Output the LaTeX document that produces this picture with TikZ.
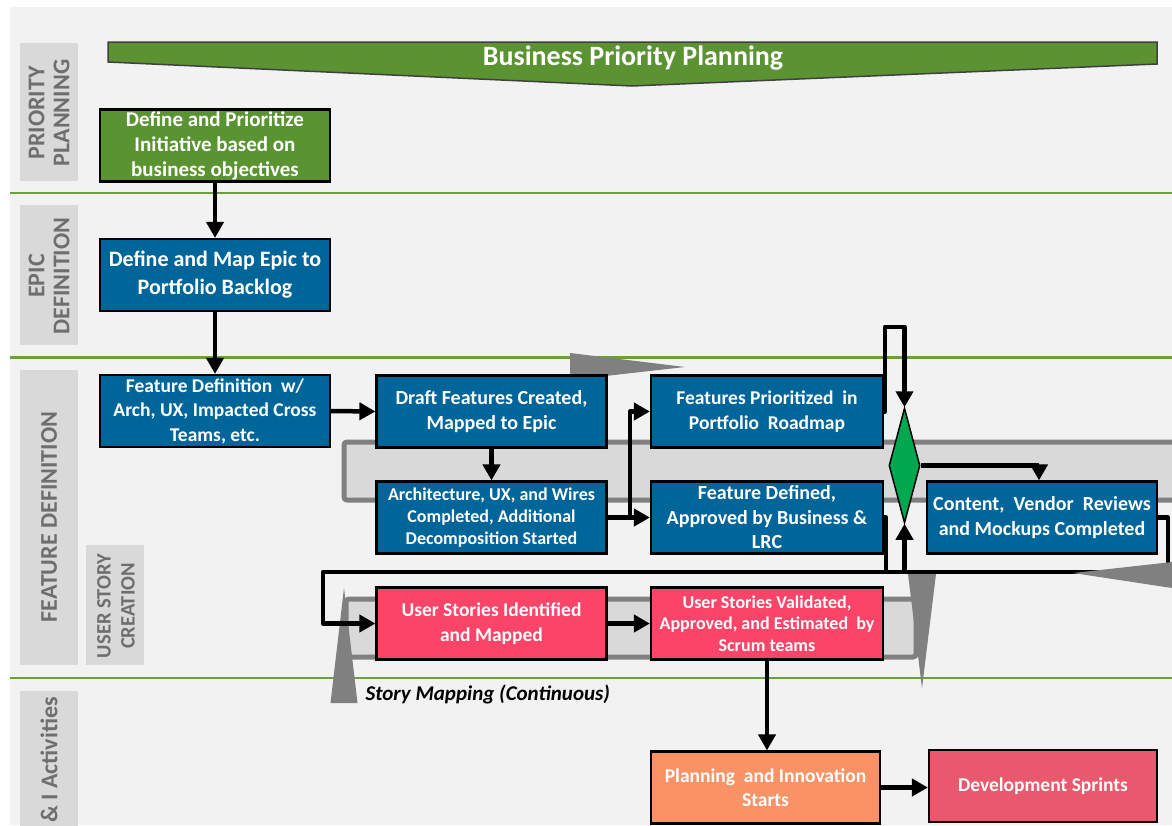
\documentclass[tikz,border=0pt]{standalone}
\usepackage{fontspec}
\setmainfont{Carlito}
\usetikzlibrary{arrows.meta,shapes.geometric}
\definecolor{bg}{HTML}{F2F2F2}
\definecolor{lanegreen}{HTML}{6A9F3A}
\definecolor{bannergreen}{HTML}{5B9232}
\definecolor{boxgreen}{HTML}{5A9331}
\definecolor{boxblue}{HTML}{006699}
\definecolor{boxpink}{HTML}{FA4569}
\definecolor{boxorange}{HTML}{F99366}
\definecolor{boxrose}{HTML}{E8596E}
\definecolor{diagreen}{HTML}{00A84F}
\definecolor{bandfill}{HTML}{D9D9D9}
\definecolor{bandline}{HTML}{808080}
\definecolor{labelfill}{HTML}{D9D9D9}
\definecolor{labeltext}{HTML}{6E6E6E}
\tikzset{
  procbox/.style={draw=black, line width=2.2pt, minimum width=230pt, minimum height=72pt,
    inner sep=0pt, align=center, text=white},
  fs20/.style={font={\bfseries\fontsize{20}{24.5}\selectfont}},
  fs19/.style={font={\bfseries\fontsize{19.5}{24.5}\selectfont}},
  fs18/.style={font={\bfseries\fontsize{18}{22}\selectfont}},
  fs22/.style={font={\bfseries\fontsize{22}{28}\selectfont}},
  fs21/.style={font={\bfseries\fontsize{21}{25}\selectfont}},
  lanelabel/.style={rotate=90, align=center, text=labeltext, inner sep=0pt,
    font={\bfseries\fontsize{24}{25}\selectfont}},
  labelbox/.style={fill=labelfill},
  laneline/.style={draw=lanegreen, line width=2.5pt},
  band/.style={draw=bandline, fill=bandfill, line width=5pt, rounded corners=3pt},
  greytri/.style={fill=bandline},
  conn/.style={draw=black, line width=4.5pt, line join=round,
    -{Triangle[length=16pt,width=17pt]}},
  plainconn/.style={draw=black, line width=4.5pt, line join=round},
}
\begin{document}
\begin{tikzpicture}[x=1pt,y=-1pt]
\useasboundingbox (0,0) rectangle (1172,825);
% background
\fill[white] (0,0) rectangle (1172,825);
\fill[bg] (10,7) rectangle (1172,825);
% lane separators
\draw[laneline] (10,193) -- (1172,193);
\draw[laneline] (10,357.5) -- (1172,357.5);
\draw[laneline] (10,678) -- (1172,678);
% lane label boxes
\fill[labelbox] (20,43) rectangle (78,181);
\fill[labelbox] (20,205) rectangle (78,345);
\fill[labelbox] (20,370) rectangle (78,665);
\fill[labelbox] (86,545) rectangle (144,665);
\fill[labelbox] (20,691) rectangle (78,830);
\node[lanelabel] (lab1) at (49,113) {PRIORITY\\PLANNING};
\node[lanelabel] (lab2) at (49,276) {EPIC\\DEFINITION};
\node[lanelabel] (lab3) at (49,517) {FEATURE DEFINITION};
\node[lanelabel, font={\bfseries\fontsize{20.5}{24}\selectfont}] (lab4) at (116,606) {USER STORY\\CREATION};
\node[lanelabel] (lab5) at (49,760) {\& I Activities};
% banner
\draw[fill=bannergreen, draw=black!75, line width=1.5pt]
  (108,42) -- (1157,42) -- (1157,64) -- (632,86) -- (108,62) -- cycle;
\node[text=white, font={\bfseries\fontsize{28}{32}\selectfont}] (title) at (633,58) {Business Priority Planning};
% loop bands
\draw[band] (344,442) rectangle (1185,500);
\draw[band] (346,599) rectangle (916,657);
% grey arrow heads of the loops
\fill[greytri] (570,353) -- (570,380) -- (685,367) -- cycle;
\fill[greytri] (344,588) -- (357.5,703) -- (330.5,703) -- cycle;
\fill[greytri] (908,574) -- (936,574) -- (922,688) -- cycle;
% process boxes
\node[procbox, fill=boxgreen, fs21] (n1) at (215,145.5) {Define and Prioritize\\Initiative based on\\business objectives};
\node[procbox, fill=boxblue, fs22] (n2) at (215,275) {Define and Map Epic to\\Portfolio Backlog};
\node[procbox, fill=boxblue, fs19] (n3) at (215,411) {Feature Definition~ w/\\Arch, UX, Impacted Cross\\Teams, etc.};
\node[procbox, fill=boxblue, fs20] (n4) at (491.5,411.5) {Draft Features Created,\\Mapped to Epic};
\node[procbox, fill=boxblue, fs18] (n5) at (491.5,517.5) {Architecture, UX, and Wires\\Completed, Additional\\Decomposition Started};
\node[procbox, fill=boxblue, fs19, minimum width=232pt] (n6) at (767,411.5) {Features Prioritized~ in\\Portfolio~ Roadmap};
\node[procbox, fill=boxblue, fs20, minimum width=232pt] (n7) at (767,517.5) {Feature Defined,\\Approved by Business \&\\LRC};
\node[procbox, fill=boxblue, fs20] (n8) at (1042,517.5) {Content,~ Vendor~ Reviews\\and Mockups Completed};
\node[procbox, fill=boxpink, fs19] (n9) at (491.5,623.5) {User Stories Identified\\and Mapped};
\node[procbox, fill=boxpink, font={\bfseries\fontsize{18}{21.5}\selectfont}, minimum width=232pt] (n10) at (767,623.5) {User Stories Validated,\\Approved, and Estimated~ by\\Scrum teams};
\node[procbox, fill=boxorange, fs19, minimum width=229pt] (n11) at (765.5,787.5) {Planning~ and Innovation\\Starts};
\node[procbox, fill=boxrose, fs19, minimum width=228pt] (n12) at (1043,786) {Development Sprints};
% decision diamond
\node[diamond, draw=black, fill=diagreen, line width=1.5pt, minimum width=31pt,
  minimum height=115pt, inner sep=0pt] (dia) at (904.5,465.5) {};
% text
\node[anchor=west, font={\bfseries\itshape\fontsize{21}{24}\selectfont}] (sm) at (362,694) {Story Mapping (Continuous)};
% connector helper points
\coordinate (br) at (630,517.5);
\coordinate (t1) at (885,327);
\coordinate (b1) at (886,572);
\coordinate (r1) at (1168,572);
\coordinate (l1) at (323,572);
% connectors
\draw[conn] (n1.south) -- (n2.north);
\draw[conn] (n2.south) -- (n3.north);
\draw[conn] (n3.east) -- (n4.west);
\draw[conn] (n4.south) -- (n5.north);
\draw[plainconn] (n5.east) -- (br);
\draw[conn] (br) |- (n6.west);
\draw[conn] (br) -- (n7.west);
\draw[conn] (n6.east) -| (t1) -| (dia.north);
\draw[conn] (n7.east) -| (b1) -| (dia.south);
\draw[conn] (dia.east) -| ([xshift=-3pt]n8.north);
\draw[conn] (n8.east) -| (r1) -- (l1) |- (n9.west);
\draw[conn] (n9.east) -- (n10.west);
\draw[conn] (n10.south) -- (n10.south |- n11.north);
\draw[conn] (n11.east) -- (n11.east -| n12.west);
% right loop arrow head over the line
\fill[greytri] (1073,573) -- (1172,562) -- (1172,588) -- cycle;
\end{tikzpicture}
\end{document}
